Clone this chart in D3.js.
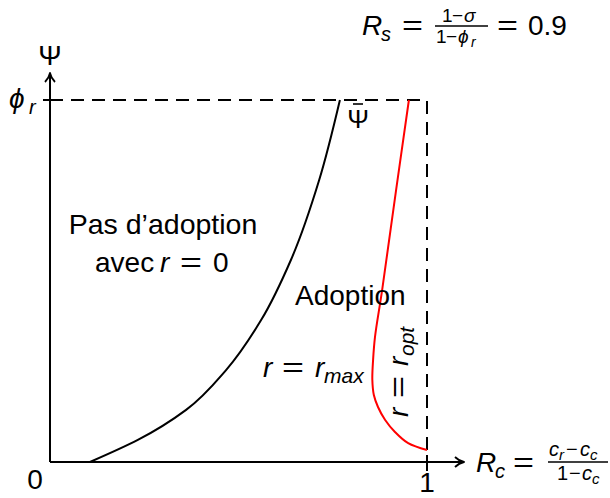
<!DOCTYPE html>
<html>
<head>
<meta charset="utf-8">
<script src="https://cdn.jsdelivr.net/npm/d3@7"></script>
<style>
  html, body { margin: 0; padding: 0; background: #fff; }
  svg { display: block; font-family: "Liberation Sans", Arial, Helvetica, sans-serif; }
  .it { font-style: italic; }
</style>
</head>
<body>
<svg id="chart" width="610" height="498"></svg>
<script>
// Boundary of the adoption region: Rc values along Ψ̄ (Ψ expressed as a fraction of φr)
const psiBarRc  = [0.106, 0.233, 0.361, 0.467, 0.560, 0.639, 0.714, 0.769];
const psiBarPsi = [0.000, 0.061, 0.144, 0.254, 0.392, 0.558, 0.779, 1.000];

// Curve separating r = r_max from r = r_opt
const rOptRc  = [0.952, 0.918, 0.881, 0.862, 0.857, 0.855, 0.859, 0.870, 0.889, 0.915, 0.950, 1.000];
const rOptPsi = [1.000, 0.751, 0.475, 0.345, 0.282, 0.227, 0.185, 0.152, 0.116, 0.083, 0.052, 0.033];

// Axis tick labels (Rc axis)
const xTickValues = [0, 1];
const xTickLabels = ["0", "1"];
const RsValue = 0.9;

const svg = d3.select("#chart");

const x = d3.scaleLinear().domain([0, 1]).range([50, 427]);
const y = d3.scaleLinear().domain([0, 1]).range([462, 100]);

const FS = 28;

// Dashed frame: Ψ = φr and Rc = 1
svg.append("path")
  .attr("d", d3.line()([[x(0), y(1)], [x(1), y(1)], [x(1), y(-0.03)]]))
  .attr("fill", "none")
  .attr("stroke", "#000")
  .attr("stroke-width", 2)
  .attr("stroke-dasharray", "13,8");

// Axes
const axisG = svg.append("g").attr("stroke", "#000").attr("stroke-width", 2).attr("fill", "none");
axisG.append("line").attr("x1", x(0)).attr("y1", y(0)).attr("x2", x(0)).attr("y2", 74);
axisG.append("line").attr("x1", x(0)).attr("y1", y(0)).attr("x2", 463).attr("y2", y(0));
// arrow heads
axisG.append("path")
  .attr("d", `M${x(0) - 5},${82} Q${x(0) - 1},${78} ${x(0)},${73} Q${x(0) + 1},${78} ${x(0) + 5},${82}`)
  .attr("stroke-width", 1.8).attr("stroke-linejoin", "round");
axisG.append("path")
  .attr("d", `M${455},${y(0) - 5} Q${459},${y(0) - 1} ${464},${y(0)} Q${459},${y(0) + 1} ${455},${y(0) + 5}`)
  .attr("stroke-width", 1.8).attr("stroke-linejoin", "round");
// ticks at φr and Rc = 1
axisG.append("line").attr("x1", x(0) - 7).attr("y1", y(1)).attr("x2", x(0) + 7).attr("y2", y(1));
axisG.append("line").attr("x1", x(1)).attr("y1", y(0) - 7).attr("x2", x(1)).attr("y2", y(0) + 8);

// Ψ̄ curve
const psiLine = d3.line().x(d => x(d[0])).y(d => y(d[1])).curve(d3.curveMonotoneY);
svg.append("path")
  .datum(psiBarRc.map((v, i) => [v, psiBarPsi[i]]))
  .attr("d", psiLine)
  .attr("fill", "none").attr("stroke", "#000").attr("stroke-width", 2);

// r_opt boundary
const optLine = d3.line().x(d => x(d[0])).y(d => y(d[1])).curve(d3.curveCatmullRom.alpha(0.5));
svg.append("path")
  .datum(rOptRc.map((v, i) => [v, rOptPsi[i]]))
  .attr("d", optLine)
  .attr("fill", "none").attr("stroke", "#ff0000").attr("stroke-width", 2);

// Text helpers
function txt(xp, yp, anchor, size) {
  return svg.append("text").attr("x", xp).attr("y", yp)
    .attr("font-size", size || FS).attr("text-anchor", anchor || "start").attr("fill", "#000");
}
// piece: [text, x, italic, dy, size, stretchedWidth]
function pieces(t, list) {
  list.forEach(p => {
    const s = t.append("tspan").attr("x", p[1]).text(p[0]);
    if (p[2]) s.attr("class", "it");
    if (p[3]) s.attr("dy", p[3]);
    if (p[4]) s.attr("font-size", p[4]);
    if (p[5]) s.attr("textLength", p[5]).attr("lengthAdjust", "spacingAndGlyphs");
  });
  return t;
}

// Tick labels
svg.selectAll("text.xtick").data(xTickValues).enter().append("text")
  .attr("class", "xtick")
  .attr("x", (d, i) => i === 0 ? 35 : x(d))
  .attr("y", (d, i) => i === 0 ? 489 : 492)
  .attr("text-anchor", "middle")
  .attr("font-size", FS)
  .text((d, i) => xTickLabels[i]);

// Axis names
txt(x(0), 65, "middle").text("Ψ");
pieces(txt(0, 108), [["ϕ", 9, true], ["r", 29, true, 6, 20]]);

// Rc axis name with fraction
pieces(txt(0, 472), [["R", 476, true], ["c", 495, true, 6, 20], ["=", 513, false, -6, null, 21]]);
pieces(txt(0, 456, "start", 20), [["c", 549, true], ["r", 559, true, 4, 15], ["−", 566, false, -4], ["c", 580, true], ["c", 590, true, 4, 15]]);
svg.append("line").attr("x1", 548).attr("x2", 608).attr("y1", 462).attr("y2", 462)
  .attr("stroke", "#000").attr("stroke-width", 1.4);
pieces(txt(0, 480, "start", 20), [["1", 557], ["−", 569], ["c", 582, true], ["c", 592, true, 4, 15]]);

// Rs formula
pieces(txt(0, 35), [["R", 362, true], ["s", 381, true, 6, 20], ["=", 402, false, -6, null, 21]]);
pieces(txt(0, 22, "start", 19), [["1", 442], ["−", 452], ["σ", 464, true]]);
svg.append("line").attr("x1", 435).attr("x2", 488).attr("y1", 26).attr("y2", 26)
  .attr("stroke", "#000").attr("stroke-width", 1.4);
pieces(txt(0, 43, "start", 19), [["1", 436], ["−", 446], ["ϕ", 458, true], ["r", 471, true, 4, 14]]);
pieces(txt(0, 35), [["=", 497, false, 0, null, 21], [String(RsValue), 528]]);

// Curve label Ψ̄
txt(358, 128, "middle", 26).text("Ψ");
svg.append("line").attr("x1", 353).attr("x2", 363).attr("y1", 104).attr("y2", 104)
  .attr("stroke", "#000").attr("stroke-width", 1.6);

// Region labels
txt(163, 234, "middle", 28.5).text("Pas d’adoption");
pieces(txt(0, 272), [["avec", 95], ["r", 160, true], ["=", 180, false, 0, null, 22], ["0", 213]]);

txt(295, 305).text("Adoption");

pieces(txt(0, 377), [["r", 263, true], ["=", 282, false, 0, null, 22], ["r", 315, true], ["max", 324, true, 6, 21]]);

const ropt = svg.append("text")
  .attr("transform", "translate(408,417) rotate(-90)")
  .attr("font-size", FS);
pieces(ropt, [["r", 0, true], ["=", 19, false, 0, null, 22], ["r", 51, true], ["opt", 61, true, 6, 21]]);
</script>
</body>
</html>
